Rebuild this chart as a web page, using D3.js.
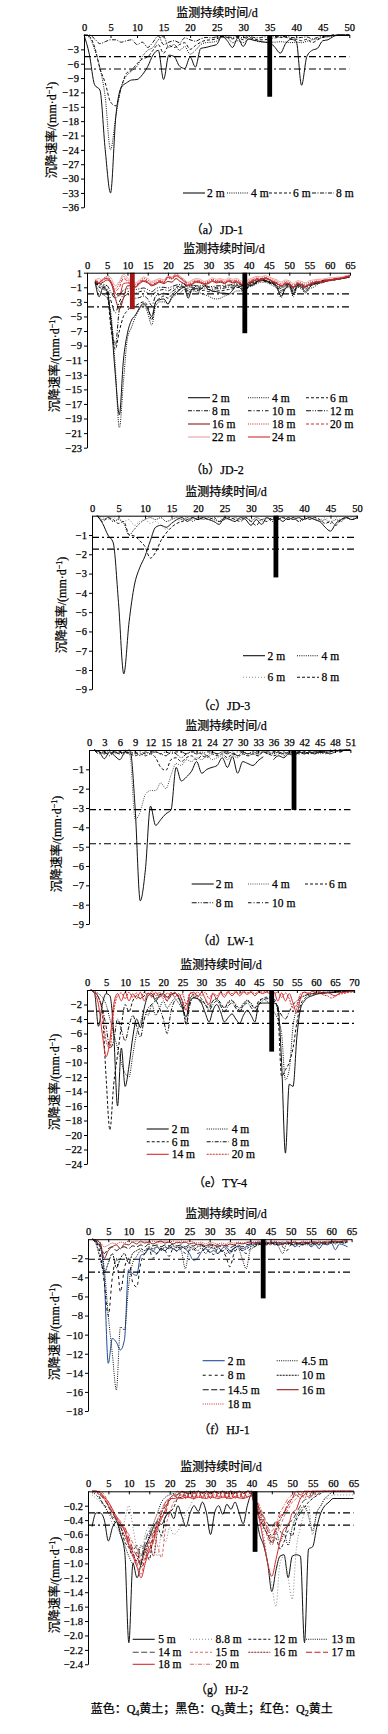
<!DOCTYPE html>
<html><head><meta charset="utf-8">
<script src="https://cdn.jsdelivr.net/npm/d3@7"></script>
<style>
body{margin:0;background:#fff;}
svg{display:block;background:#fff;}
text{font-family:"Liberation Serif","Times New Roman","Noto Sans CJK SC",serif;fill:#000;stroke:#000;stroke-width:0.25px;}
</style></head><body>
<svg id="c" width="388" height="1734"></svg>
<script>
// ---------------- texts ----------------
const xTitle = "监测持续时间/d";
const yTitle = "沉降速率/(mm·d";
const captions = ["（a）JD-1","（b）JD-2","（c）JD-3","（d）LW-1","（e）TY-4","（f）HJ-1","（g）HJ-2"];

// ---------------- JD-1 ----------------
const jd1Days = [0,1,2,3,4,5,6,7,8,9,10,11,12,13,14,15,16,17,18,19,20,21,22,23,24,25,26,27,28,29,30,31,32,33,34,35,36,37,38,39,40,41,42,43,44,45,46,47,48,49,50];
const jd1XTicks = [0,5,10,15,20,25,30,35,40,45,50];
const jd1YTicks = [-3,-6,-9,-12,-15,-18,-21,-24,-27,-30,-33,-36];
const jd1_2m = [0,-4,-10.4,-11.5,-24,-33,-17,-11,-10,-9.4,-9.3,
 -8.3,-6.6,-4.2,-3.2,-9.3,-4.2,-4.5,-6.5,-7,-4.6,
 -6.7,-2.8,-2.6,-2.3,-2,-0.2,-1.2,-2.6,-0.6,-2.4,
 -0.8,-1.1,-1.3,-1.5,-1.6,-2.6,-3.8,-1.8,-0.9,-1.3,
 -10.5,-4.5,-3.2,-2.8,-1.2,-1,-0.3,0,0,0];
const jd1_4m = [0,-0.5,-3,-6.8,-13,-24,-17,-11,-8.5,-7.5,-6.5,
 -4.5,-3.2,-2.6,-1,-0.3,-2.6,-2,-3.2,-2.4,-4,
 -3.2,-2,-1.6,-1.5,-1.3,-0.5,-0.6,-1.6,-1.2,-1.6,
 -0.9,-1.1,-1.4,-1.5,-1.5,-1.5,-1.4,-1.5,-1.6,-1.5,
 -1.6,-1.3,-1,-0.8,-0.5,-0.4,-0.2,0,0,0];
const jd1_6m = [0,-0.3,-2.5,-7,-10,-14,-14.8,-11,-8,-7.3,-6,
 -5,-4.6,-3.2,-2,-3.8,-2.2,-2.6,-2,-1.6,-3,
 -2.2,-1.5,-1.1,-1,-0.8,-0.4,-0.5,-0.8,-0.5,-1,
 -0.5,-0.8,-1,-1,-0.8,-0.6,-0.5,-0.5,-0.8,-0.9,
 -1.2,-0.9,-1.6,-1,-0.5,-0.2,0,0,0,0];
const jd1_8m = [0,0,-0.8,-1.8,-1.4,-1,-1,-1.5,-1.2,-1,-2,
 -1.5,-2.6,-1.5,-0.2,-2,-1.5,-1.2,-1.6,-0.6,-1,
 -1.3,-0.8,-0.5,-0.6,-0.4,-0.3,-0.4,-0.5,-0.3,-0.6,
 -0.3,-0.5,-0.6,-0.4,-0.5,-0.3,-0.4,-0.3,-0.5,-0.6,
 -0.5,-0.4,-0.8,-0.5,-0.2,-0.3,0,0,0,0];
const jd1Thresholds = [-4.5,-7.1];
const jd1Bar = [35,-12.9];

// ---------------- JD-2 ----------------
const jd2Days = [2,3,4,5,6,7,8,9,10,11,12,13,14,15,16,17,18,19,20,21,22,23,24,25,26,27,28,29,30,31,32,33,34,35,36,37,38,39,40,41,42,43,44,45,46,47,48,49,50,51,52,53,54,55,56,57,58,59,60,61,62,63,64,65];
const jd2XTicks = [0,5,10,15,20,25,30,35,40,45,50,55,60,65];
const jd2YTicks = [1,-1,-3,-5,-7,-9,-11,-13,-15,-17,-19,-21,-23];
const jd2_2m = [-0.2,-2.3,-1.0,-1.6,-6,-13,-18.5,-11,
 -7.3,-5.5,-4.8,-3.8,-3.2,-4,-5,-3,
 -2.7,-2.6,-3.3,-2.3,-1.8,-1.3,-0.9,-2.5,
 -1.2,-1.2,-1.3,-0.8,-1.3,-1.5,-1.6,-1.8,
 -1.8,-1.9,-1.4,-0.7,-1.2,-1.6,-0.8,-0.7,
 -0.3,0.2,0,-0.3,-0.5,-1.1,-2.2,-1.2,
 -0.8,-2.0,-0.8,-1.0,-1.6,-1.0,-0.6,-0.5,
 -0.3,-0.2,0,0.1,0.2,0.3,0.5,0.6];
const jd2_4m = [-0.5,-1.5,-2,-2.5,-5,-12,-20.3,-14,
 -8,-6.5,-5,-4,-3.4,-4.5,-6.2,-3.5,
 -3,-3,-3.2,-2.5,-2,-1.8,-1.3,-2.2,
 -1.5,-1.6,-1.8,-2,-2.2,-2.5,-2.6,-2.5,
 -2.2,-2,-1.8,-1.5,-1.5,-1.5,-1,-0.8,
 -0.5,-0.3,-0.3,-0.5,-0.8,-1.2,-2.4,-1.2,
 -1,-2.3,-1,-1.2,-1.8,-1.2,-1,-0.6,
 -0.3,-0.2,0,0,0.2,0.2,0.4,0.5];
const jd2_6m = [-0.4,-1,-1.2,-2,-7,-9.5,-7,-5,
 -4.2,-3.6,-3.5,-3.2,-3,-3.6,-5.5,-3,
 -2.5,-2.2,-2.5,-2,-1.5,-1.3,-1,-1.8,
 -1.3,-1.4,-1.5,-1.4,-1.6,-1.6,-1.5,-1.5,
 -1.4,-1.3,-1.2,-1,-1.1,-1.3,-0.9,-0.6,
 -0.4,-0.1,-0.2,-0.4,-0.6,-0.9,-1.8,-1,
 -0.7,-1.7,-0.8,-0.9,-1.3,-0.8,-0.6,-0.4,
 -0.3,-0.1,0,0,0.1,0.2,0.4,0.5];
const jd2_8m = [-0.3,-0.8,-1,-1.5,-6,-9,-4,-2.5,
 -2,-2.2,-2.5,-2.4,-2.2,-2.6,-3.5,-2.2,
 -2,-1.8,-2,-1.6,-1.2,-1,-0.8,-1.5,
 -1,-1.1,-1.2,-1.1,-1.3,-1.3,-1.2,-1.2,
 -1.1,-1,-1,-0.8,-0.9,-1.1,-0.7,-0.5,
 -0.3,0,-0.1,-0.3,-0.5,-0.8,-1.5,-0.8,
 -0.6,-1.5,-0.7,-0.8,-1.1,-0.7,-0.5,-0.4,
 -0.2,-0.1,0,0.1,0.1,0.2,0.3,0.5];
const jd2_10m = [-0.3,-0.6,-0.8,-1.2,-3,-4.5,-3,-2,
 -1.6,-1.5,-1.8,-1.6,-1.5,-1.8,-2.2,-1.6,
 -1.4,-1.3,-1.5,-1.2,-1,-0.8,-0.6,-1.2,
 -0.8,-0.9,-1,-0.9,-1,-1.1,-1,-1,
 -0.9,-0.8,-0.8,-0.6,-0.7,-0.9,-0.6,-0.4,
 -0.2,0,-0.1,-0.2,-0.4,-0.6,-1.2,-0.7,
 -0.5,-1.2,-0.6,-0.7,-0.9,-0.6,-0.4,-0.3,
 -0.2,0,0,0.1,0.2,0.2,0.3,0.4];
const jd2_12m = [-0.2,-0.5,-0.6,-0.8,-1.8,-2.5,-2,-1.4,
 -1.2,-1.1,-1.3,-1.2,-1.1,-1.3,-1.6,-1.2,
 -1,-1,-1.1,-0.9,-0.7,-0.6,-0.5,-1,
 -0.7,-0.8,-0.8,-0.7,-0.9,-0.9,-0.8,-0.8,
 -0.7,-0.7,-0.6,-0.5,-0.6,-0.8,-0.5,-0.3,
 -0.2,0,-0.1,-0.2,-0.3,-0.5,-1,-0.6,
 -0.4,-1,-0.5,-0.6,-0.8,-0.5,-0.4,-0.3,
 -0.1,0,0,0.1,0.2,0.2,0.3,0.4];
const jd2_16m = [-0.2,-0.5,-0.3,0,-0.5,-2.5,-4.0,-2.5,
 -0.8,-0.8,-1,-0.5,-0.2,-0.4,-0.8,-0.6,
 -0.3,-0.5,-0.2,-0.3,0.2,-0.2,-0.5,-0.8,
 -0.6,-0.3,-0.4,-0.6,-0.5,-0.2,-0.4,-0.3,
 -0.5,-0.2,-0.4,-0.3,-0.6,-0.8,-0.4,-0.2,
 0,-0.1,0.2,0,-0.3,-0.5,-0.8,-0.5,
 -0.6,-1,-0.5,-0.7,-0.9,-0.6,-0.5,-0.3,
 -0.4,-0.2,-0.1,0,0.1,0.2,0.3,0.5];
const jd2_18m = [0,-0.3,0.2,0.5,-0.2,-1.2,-0.5,0.5,
 0,-0.5,-0.6,-0.2,0.2,0,-0.4,-0.2,
 0,-0.2,0.3,0.1,0.5,0.2,-0.1,-0.4,
 -0.2,0,-0.1,-0.3,-0.2,0.1,-0.1,0,
 -0.2,0.1,-0.1,0,-0.3,-0.5,-0.1,0.1,
 0.3,0.2,0.4,0.2,0,-0.2,-0.5,-0.2,
 -0.3,-0.7,-0.3,-0.4,-0.6,-0.3,-0.2,0,
 -0.1,0.1,0.1,0.2,0.3,0.3,0.5,0.6];
const jd2_20m = [-0.1,-0.2,0,0.3,-0.5,-1.5,-1,0.2,
 -0.2,-0.6,-0.8,-0.3,0,-0.2,-0.6,-0.4,
 -0.1,-0.4,0.5,0.3,0.8,0.4,0,-0.6,
 -0.4,-0.1,-0.2,-0.5,-0.3,0,-0.2,-0.1,
 -0.4,0,-0.2,-0.1,-0.4,-0.7,-0.3,0,
 0.2,0.1,0.3,0.1,-0.2,-0.4,-0.7,-0.4,
 -0.5,-0.9,-0.4,-0.6,-0.8,-0.5,-0.3,-0.2,
 -0.3,0,0,0.1,0.2,0.3,0.4,0.5];
const jd2_22m = [0,0.2,-0.2,0.6,0.2,-0.8,-0.2,0.8,
 0.3,-0.3,-0.4,0,0.4,0.2,-0.2,0,
 0.2,0,0.6,0.4,0.9,0.5,0.1,-0.3,
 0,0.2,0.1,-0.2,0,0.3,0.1,0.2,
 0,0.3,0.1,0.2,-0.1,-0.3,0.1,0.3,
 0.5,0.4,0.6,0.4,0.2,0,-0.3,0,
 -0.1,-0.5,-0.1,-0.2,-0.4,-0.1,0,0.1,
 0.1,0.2,0.3,0.3,0.4,0.4,0.6,0.7];
const jd2_24m = [-0.1,-0.4,0.1,0.2,-0.3,-1.8,-2.2,-0.5,
 -0.4,-0.7,-0.9,-0.4,-0.1,-0.3,-0.7,-0.5,
 -0.2,-0.3,0.4,0.2,0.6,0.3,-0.2,-0.7,
 -0.5,-0.2,-0.3,-0.5,-0.4,-0.1,-0.3,-0.2,
 -0.4,-0.1,-0.3,-0.2,-0.5,-0.7,-0.3,-0.1,
 0.1,0,0.3,0.1,-0.2,-0.4,-0.9,-0.4,
 -0.5,-1.1,-0.5,-0.7,-1,-0.6,-0.4,-0.2,
 -0.3,-0.1,0,0.1,0.2,0.3,0.4,0.6];
const jd2Thresholds = [-1.9,-3.7];
const jd2Bar = [39,-7.3];
const jd2RedBar = [11.2,-4.0];

// ---------------- JD-3 ----------------
const jd3Days = [1,2,3,4,5,6,7,8,9,10,11,12,13,14,15,16,17,18,19,20,21,22,23,24,25,26,27,28,29,30,31,32,33,34,35,36,37,38,39,40,41,42,43,44,45,46,47,48,49,50];
const jd3XTicks = [0,5,10,15,20,25,30,35,40,45,50];
const jd3YTicks = [-1,-2,-3,-4,-5,-6,-7,-8,-9];
const jd3_2m = [0,-0.4,-1.0,-1.4,-4.5,-8.2,-5.5,-3.6,-2.7,-2.1,
 -1.3,-0.6,-0.5,-0.6,-0.4,-0.2,-0.1,-0.3,-0.1,-0.2,
 -0.1,-0.2,-0.3,-0.45,-0.1,-0.2,-0.3,-0.1,-0.2,-0.5,
 -0.2,-0.45,-0.1,-0.2,-0.1,-0.3,-0.1,-0.2,-0.1,-0.2,
 -0.1,-0.2,-0.3,-0.6,-0.8,-0.4,-0.2,-0.1,-0.2,-0.1];
const jd3_4m = [0,-0.2,-0.1,-0.3,-0.2,-0.4,-1.0,-0.7,-0.4,-0.2,
 -0.1,-0.2,-0.1,-0.3,-0.2,-0.1,-0.2,-0.1,-0.3,-0.1,
 -0.2,-0.1,-0.2,-0.3,-0.1,-0.2,-0.1,-0.2,-0.1,-0.3,
 -0.1,-0.2,-0.1,-0.3,-0.2,-0.1,-0.2,-0.1,-0.3,-0.2,
 -0.1,-0.2,-0.3,-0.2,-0.4,-0.2,-0.3,-0.1,-0.2,-0.1];
const jd3_6m = [0,-0.1,-0.2,-0.1,-0.2,-0.3,-0.2,-0.5,-0.3,-0.2,
 -0.4,-0.3,-0.5,-0.7,-0.4,-0.2,-0.3,-0.1,-0.2,-0.1,
 -0.1,-0.2,-0.1,-0.1,-0.2,-0.1,-0.2,-0.1,-0.1,-0.2,
 -0.1,-0.3,-0.1,-0.2,-0.1,-0.1,-0.2,-0.1,-0.1,-0.2,
 -0.1,-0.1,-0.2,-0.1,-0.3,-0.1,-0.2,-0.1,-0.1,0];
const jd3_8m = [0,-0.3,-0.1,-0.2,-0.4,-0.3,-1.0,-1.05,-1.3,-1.6,
 -2.2,-1.9,-1.3,-0.9,-0.6,-0.4,-0.3,-0.2,-0.1,-0.2,
 -0.1,-0.2,-0.1,-0.3,-0.2,-0.1,-0.2,-0.3,-0.1,-0.3,
 -0.5,-0.2,-0.3,-0.1,-0.2,-0.1,-0.2,-0.1,-0.3,-0.1,
 -0.2,-0.1,-0.2,-0.4,-0.3,-0.5,-0.2,-0.1,-0.2,-0.1];
const jd3Thresholds = [-1.12,-1.73];
const jd3Bar = [34.7,-3.2];

// ---------------- LW-1 ----------------
const lw1Days = [1,2,3,4,5,6,7,8,9,10,11,12,13,14,15,16,17,18,19,20,21,22,23,24,25,26,27,28,29,30,31,32,33,34,35,36,37,38,39,40,41,42,43,44,45,46,47,48,49,50,51];
const lw1XTicks = [0,3,6,9,12,15,18,21,24,27,30,33,36,39,42,45,48,51];
const lw1YTicks = [-1,-2,-3,-4,-5,-6,-7,-8,-9];
const lw1_2m = [0,-0.1,-0.45,-0.1,-0.3,-0.5,-0.1,0,-3.0,-7.8,
 -6.2,-2.9,-3.9,-3.6,-3.3,-3.1,-0.9,-1.6,-1.4,-1.1,
 -0.6,-1.2,-1.0,-0.9,-0.8,-0.4,-0.9,-0.35,-1.2,-0.6,
 -0.7,-0.8,-0.55,-0.35,null,-0.5,-0.3,-0.4,-0.2,-0.3,
 -0.1,-0.2,-0.1,-0.2,-0.1,-0.1,-0.2,-0.1,0,0,
 0];
const lw1_4m = [0,-0.1,-0.2,-0.1,-0.2,-0.1,0,-0.3,-3.6,-3.2,
 -2.3,-2.1,-2.1,-1.7,-2.0,-1.3,-0.7,-0.8,-0.5,-0.6,
 -0.4,-0.5,-0.3,-0.5,-0.4,-0.3,-0.5,-0.3,-0.4,-0.2,
 -0.3,-0.2,-0.3,-0.1,-0.2,-0.2,-0.1,-0.2,-0.1,-0.2,
 -0.1,-0.2,-0.1,-0.1,-0.2,-0.1,-0.1,0,-0.1,0,
 0];
const lw1_6m = [0,-0.1,-0.2,0,-0.1,-0.2,-0.1,-0.2,-0.3,-0.2,
 -0.3,-0.2,-0.4,-0.9,-1.05,-0.5,-0.4,-0.6,-0.4,-0.3,
 -0.5,-0.3,-0.4,-0.2,-0.3,-0.2,-0.4,-0.2,-0.3,-0.2,
 -0.3,-0.2,-0.3,-0.1,-0.2,-0.3,-0.2,-0.1,-0.2,-0.1,
 -0.2,-0.1,-0.2,-0.1,-0.1,-0.2,-0.1,0,-0.1,0,
 0];
const lw1_8m = [0,-0.2,-0.1,-0.3,-0.1,-0.2,-0.1,-0.2,-0.1,-0.3,
 -0.1,-0.2,-0.1,-0.2,-0.3,-0.1,-0.2,-0.4,-0.2,-0.1,
 -0.2,-0.1,-0.3,-0.1,-0.2,-0.1,-0.2,-0.1,-0.3,-0.1,
 -0.2,-0.1,-0.2,-0.1,-0.1,-0.2,-0.1,-0.3,-0.1,-0.2,
 -0.1,-0.2,-0.1,-0.2,-0.1,-0.1,-0.1,0,-0.1,0,
 0];
const lw1_10m = [0,-0.1,-0.1,-0.2,-0.1,-0.1,-0.2,-0.1,-0.2,-0.1,
 -0.2,-0.1,-0.1,-0.2,-0.1,-0.2,-0.1,-0.1,-0.2,-0.1,
 -0.1,-0.2,-0.1,-0.1,-0.2,-0.1,-0.1,-0.2,-0.1,-0.1,
 -0.2,-0.1,-0.1,-0.1,-0.2,-0.1,-0.1,-0.2,-0.1,-0.1,
 -0.1,-0.1,-0.2,-0.1,-0.1,-0.1,0,-0.1,0,0,
 0];
const lw1Thresholds = [-3.08,-4.85];
const lw1Bar = [40,-3.1];

// ---------------- TY-4 ----------------
const ty4Days = [1,2,3,4,5,6,7,8,9,10,11,12,13,14,15,16,17,18,19,20,21,22,23,24,25,26,27,28,29,30,31,32,33,34,35,36,37,38,39,40,41,42,43,44,45,46,47,48,49,50,51,52,53,54,55,56,57,58,59,60,61,62,63,64,65,66,67,68,69,70];
const ty4XTicks = [0,5,10,15,20,25,30,35,40,45,50,55,60,65,70];
const ty4YTicks = [-2,-4,-6,-8,-10,-12,-14,-16,-18,-20,-22,-24];
const ty4_2m = [0,-0.5,-5.0,-2,-0.5,-0.8,-6,-16,-8,-13.3,
 -10.5,-6.5,-4,-5.2,-2.5,-0.8,-0.5,-1.5,-0.8,-0.5,
 -1,-0.6,-0.4,-1,-2.5,-3.7,-1.5,-1.1,-1.2,-1.8,
 -3.2,-4.4,-2.8,-2,-3,-4.4,-3.8,-3.3,-4,-4.6,
 -3.5,-2.8,-3.5,-4.4,-2,-1.8,-1.8,-1.8,-1.8,-2.2,
 -10,-22.5,-13,-13.3,-6.5,-2.5,-1.5,-1,-0.8,-0.6,
 -0.5,-0.5,-0.4,-0.4,-0.3,-0.3,-0.3,-0.2,-0.2,-0.2];
const ty4_4m = [0,-0.2,-0.5,-1,-2,-4,-6,-8,-10,-11.5,
 -12,-9,-6,-4.5,-3,-3.5,-2,-3.5,-2.5,-1.5,
 -2.5,-1.8,-1.2,-1.8,-2.5,-2,-1,-0.8,-1.2,-1.8,
 -1.5,-2.2,-1.5,-1.2,-2,-2.4,-1.6,-1.4,-2,-2.5,
 -1.8,-1.4,-1.8,-2.5,-1.8,-1.2,-1.5,-2,-3,-4,
 -6,-12.4,-11,-5,-2.5,-1.2,-0.8,-0.6,-0.5,-0.4,
 -0.4,-0.3,-0.3,-0.3,-0.2,-0.2,-0.2,-0.1,-0.1,-0.1];
const ty4_6m = [0,-0.3,-1,-3,-12,-19.3,-13,-9,-5,-2,
 -3,-1.5,-0.8,-1.2,-0.8,-0.5,-0.8,-1.2,-0.6,-0.8,
 -1.5,-0.8,-0.5,-0.8,-1.5,-4.6,-1.2,-0.6,-0.8,-1.2,
 -2,-2.5,-1.5,-1.2,-1.8,-2.5,-1.8,-1.5,-2.2,-2.8,
 -2,-1.5,-2,-2.5,-1.5,-1.2,-1,-1,-1.2,-3,
 -11.9,-11,-10,-8,-4.5,-2,-1.2,-0.8,-0.6,-0.5,
 -0.4,-0.4,-0.3,-0.3,-0.3,-0.2,-0.2,-0.2,-0.1,-0.1];
const ty4_8m = [0,-0.3,-1,-2.5,-5,-8,-7,-4,-5.5,-7,
 -5,-3.5,-5,-6.5,-4,-2.5,-2,-1.5,-2.5,-4,
 -6,-3,-1.5,-1.2,-2,-4.8,-2,-1,-1.2,-1.5,
 -2,-2.8,-2,-1.5,-2.2,-3,-2.2,-1.8,-2.5,-3,
 -2.2,-1.8,-2.4,-3,-2,-1.5,-1.2,-1.2,-1.5,-2.5,
 -3.5,-4,-3,-2,-1.5,-1,-0.8,-0.6,-0.5,-0.4,
 -0.4,-0.3,-0.3,-0.3,-0.2,-0.2,-0.2,-0.1,-0.1,-0.1];
const ty4_14m = [0,-0.5,-2,-6,-9.2,-7,-2,-0.5,-1.5,-0.3,
 -1.5,-0.5,-1.2,-0.3,-1.5,-0.4,-1,-0.3,-1,-0.5,
 -1.5,-0.3,-1,-0.5,-1.5,-2.8,-0.5,-0.3,-1,-0.3,
 -1.2,-2,-0.5,-1.2,-0.4,-1,-0.3,-0.8,-0.3,-0.8,
 -0.3,-0.6,-0.3,-0.8,-0.3,-0.5,-0.3,-0.5,-0.3,-1.5,
 -0.4,-1.5,-0.5,-1.8,-3.2,-1,-0.3,-0.5,-0.2,-0.3,
 -0.2,-0.5,-0.3,-0.6,-0.8,-0.5,-0.3,-0.3,-0.2,-0.2];
const ty4_20m = [0,-0.3,-1,-3,-7,-8,-3,-0.8,-0.4,-1.2,
 -0.3,-1,-0.4,-1.2,-0.3,-0.8,-0.2,-0.8,-0.3,-1.2,
 -0.4,-0.8,-0.3,-1,-0.5,-2,-0.4,-0.6,-0.3,-0.8,
 -0.3,-1.2,-0.4,-0.8,-0.3,-0.6,-0.2,-0.5,-0.2,-0.5,
 -0.2,-0.4,-0.2,-0.5,-0.2,-0.3,-0.2,-0.3,-0.5,-0.3,
 -1,-0.4,-1.2,-2.5,-2,-0.5,-0.3,-0.4,-0.5,-0.6,
 -0.4,-0.7,-0.8,-1.1,-0.9,-0.6,-0.5,-0.4,-0.3,-0.3];
const ty4Thresholds = [-2.9,-4.6];
const ty4Bar = [48.4,-8.5];

// ---------------- HJ-1 ----------------
const hj1Days = [1,2,3,4,5,6,7,8,9,10,11,12,13,14,15,16,17,18,19,20,21,22,23,24,25,26,27,28,29,30,31,32,33,34,35,36,37,38,39,40,41,42,43,44,45,46,47,48,49,50,51,52,53,54,55,56,57,58,59,60,61,62,63,64];
const hj1XTicks = [0,5,10,15,20,25,30,35,40,45,50,55,60,65];
const hj1YTicks = [-2,-4,-6,-8,-10,-12,-14,-16,-18];
const hj1_2m = [0,-0.3,-0.8,-4,-13,-10.4,-10.8,-11.6,-10.5,-3.2,
 -3.6,-3.8,-1.7,-1.5,-1,-1.2,-1.5,-1,-1.2,-0.8,
 -1,-1.2,-0.8,-1,-1.5,-2.2,-2,-1.3,-1,-1.4,
 -1.2,-1.5,-1,-0.8,-1.2,-1,-0.7,-1,-0.8,-0.6,
 -0.5,-0.5,-0.5,-0.5,-0.3,-0.6,-0.4,-0.3,-0.5,-0.4,
 -0.8,-0.5,-0.6,-0.3,-0.8,-0.5,-1.0,-0.5,-0.6,-0.4,
 -1.1,-0.5,-0.6,-0.8];
const hj1_4_5m = [0,-0.2,-0.8,-3,-8,-12,-15.8,-9.2,-9.5,-5,
 -2.5,-1.8,-1.2,-1.5,-1,-1.3,-0.8,-1,-1.2,-0.8,
 -1,-0.8,-1.2,-3.1,-1,-0.8,-1.2,-0.9,-1.5,-1,
 -0.8,-1.5,-1.2,-1.5,-1.3,-1.2,-1,-2,-3.1,-1.2,
 -0.8,-0.6,-0.5,-0.4,-0.6,-0.3,-0.8,-1.5,-0.5,-0.6,
 -0.4,-0.8,-0.5,-0.6,-0.4,-0.6,-0.3,-0.5,-0.4,-0.3,
 -0.5,-0.3,-0.4,-0.3];
const hj1_8m = [0,-0.3,-1.5,-4.5,-8,-4,-2,-5.5,-3,-2,
 -4.5,-5,-2.5,-1.5,-1,-2,-1.5,-1,-1.2,-1.8,
 -1,-1.3,-1,-1.5,-1.2,-1,-1.5,-1.2,-1,-1.3,
 -1.6,-1,-1.2,-1.8,-2.9,-1.5,-1,-1.2,-1.5,-1,
 -0.8,-0.6,-0.5,-0.6,-0.4,-0.5,-0.6,-0.8,-1.2,-0.6,
 -0.5,-0.4,-0.6,-0.4,-0.5,-0.4,-0.6,-0.4,-0.3,-0.4,
 -0.3,-0.4,-0.3,-0.3];
const hj1_10m = [0,-0.5,-2,-3.5,-2.5,-1.5,-3,-2,-1.5,-2.5,
 -1.5,-1.2,-1,-1.2,-0.8,-1,-0.8,-1.2,-0.8,-1,
 -0.7,-0.9,-0.8,-1,-0.8,-1.1,-0.8,-0.7,-0.9,-0.8,
 -1,-0.8,-1.3,-1,-1.5,-0.9,-0.8,-1.2,-1,-0.8,
 -0.6,-0.5,-0.4,-0.5,-0.4,-0.5,-0.6,-0.5,-0.4,-0.5,
 -0.6,-0.4,-0.5,-0.4,-0.6,-0.4,-0.5,-0.4,-0.5,-0.3,
 -0.4,-0.3,-0.4,-0.3];
const hj1_14_5m = [0,-0.2,-0.6,-1.5,-1,-0.8,-1.2,-0.9,-0.8,-1,
 -0.7,-0.8,-0.6,-0.8,-0.5,-0.7,-0.6,-0.8,-0.6,-0.7,
 -0.5,-0.7,-0.6,-0.8,-0.6,-0.7,-0.5,-0.6,-0.8,-0.6,
 -0.7,-0.6,-0.8,-0.6,-0.9,-0.7,-0.6,-0.8,-0.6,-0.5,
 -0.4,-0.4,-0.3,-0.4,-0.3,-0.4,-0.3,-0.5,-0.3,-0.4,
 -0.3,-0.4,-0.3,-0.4,-0.3,-0.3,-0.4,-0.3,-0.3,-0.3,
 -0.2,-0.3,-0.2,-0.2];
const hj1_16m = [0,-0.1,-0.4,-2.0,-1.2,-0.8,-0.6,-1,-0.5,-0.6,
 -0.3,-0.5,-0.2,-0.4,-0.3,-0.5,-0.3,-0.2,-0.4,-0.3,
 -0.5,-0.3,-0.4,-0.3,-0.5,-0.4,-0.6,-0.5,-0.7,-0.5,
 -0.6,-0.8,-0.6,-0.7,-0.5,-0.6,-0.4,-0.5,-0.4,-0.3,
 -0.4,-0.3,-0.4,-0.3,-0.5,-0.3,-0.4,-0.6,-0.3,-0.4,
 -0.3,-0.5,-0.3,-0.4,-0.3,-0.5,-0.3,-0.4,-0.3,-0.3,
 -0.2,-0.3,-0.2,-0.2];
const hj1_18m = [0,-0.1,-0.3,-0.8,-0.6,-0.4,-0.5,-0.3,-0.4,-0.2,
 -0.3,-0.2,-0.4,-0.2,-0.3,-0.2,-0.3,-0.4,-0.2,-0.3,
 -0.2,-0.4,-0.2,-0.3,-0.2,-0.3,-0.4,-0.3,-0.5,-0.3,
 -0.4,-0.5,-0.4,-0.5,-0.3,-0.4,-0.3,-0.4,-0.3,-0.2,
 -0.3,-0.2,-0.3,-0.2,-0.4,-0.2,-0.3,-0.4,-0.2,-0.3,
 -0.2,-0.4,-0.2,-0.3,-0.2,-0.3,-0.2,-0.3,-0.2,-0.2,
 -0.2,-0.2,-0.1,-0.1];
const hj1Thresholds = [-2.1,-3.45];
const hj1Bar = [43.2,-6.2];

// ---------------- HJ-2 ----------------
const hj2Days = [1,2,3,4,5,6,7,8,9,10,11,12,13,14,15,16,17,18,19,20,21,22,23,24,25,26,27,28,29,30,31,32,33,34,35,36,37,38,39,40,41,42,43,44,45,46,47,48,49,50,51,52,53,54,55,56,57,58,59,60,61,62,63,64,65];
const hj2XTicks = [0,5,10,15,20,25,30,35,40,45,50,55,60,65];
const hj2YTicks = [-0.2,-0.4,-0.6,-0.8,-1.0,-1.2,-1.4,-1.6,-1.8,-2.0,-2.2,-2.4];
const hj2_5m = [-0.49,-0.3,-0.3,-0.4,-0.69,-0.5,-0.42,-0.6,-0.85,-2.1,
 -1.0,-1.2,-1.0,-0.77,-0.65,-0.5,-0.42,-0.46,-0.35,-0.28,
 -0.38,-0.2,-0.35,-0.49,-0.3,-0.2,-0.28,-0.15,-0.3,-0.6,
 -0.3,-0.2,-0.32,-0.18,-0.25,-0.15,-0.3,-0.45,-0.2,-0.05,
 -0.3,-0.6,-0.75,-1.0,-1.39,-1.1,-0.9,-0.88,-1.2,-0.9,
 -0.88,-0.9,-2.1,-0.8,-0.77,-0.5,-0.3,-0.2,-0.15,-0.1,
 -0.1,-0.1,-0.1,-0.1,-0.1];
const hj2_8_8m = [-0.05,-0.1,-0.15,-0.2,-0.3,-0.45,-0.5,-0.6,-0.4,-0.2,
 -0.5,-0.8,-0.9,-0.6,-0.5,-0.7,-0.9,-0.6,-0.7,-0.5,
 -0.6,-0.55,-0.45,-0.3,-0.2,-0.1,-0.05,-0.1,-0.05,-0.08,
 -0.05,-0.1,-0.05,-0.08,-0.05,-0.1,-0.05,-0.08,-0.05,-0.05,
 -0.2,-0.4,-0.6,-1.0,-1.3,-1.6,-1.0,-0.9,-1.2,-1.5,
 -0.8,-0.5,-0.3,-0.2,-0.6,-0.3,-0.2,-0.1,-0.1,-0.05,
 -0.05,-0.05,-0.05,-0.05,-0.05];
const hj2_12m = [0,0,-0.1,-0.2,-0.22,-0.38,-0.45,-0.5,-0.7,-0.78,
 -0.9,-0.85,-1.02,-0.8,-0.95,-0.6,-0.5,-0.62,-0.35,-0.3,
 -0.22,-0.1,-0.08,-0.05,-0.02,0,0,-0.02,0,-0.03,
 0,-0.02,0,-0.03,0,-0.02,0,-0.03,0,-0.02,
 -0.2,-0.38,-0.5,-0.6,-0.72,-0.65,-0.8,-0.7,-0.55,-0.62,
 -0.4,-0.3,-0.22,-0.15,-0.1,-0.06,-0.03,0,0,0,
 0,0,0,0,0];
const hj2_13m = [-0.02,-0.05,-0.12,-0.2,-0.3,-0.35,-0.42,-0.6,-0.75,-0.9,
 -1.0,-0.95,-0.75,-0.85,-0.6,-0.45,-0.3,-0.15,-0.08,-0.05,
 -0.03,-0.05,0,-0.03,0,-0.02,0,-0.03,0,-0.02,
 0,-0.03,0,-0.02,0,-0.03,0,-0.02,0,0,
 -0.1,-0.3,-0.45,-0.5,-0.62,-0.55,-0.7,-0.6,-0.75,-0.5,
 -0.35,-0.25,-0.2,-0.35,-0.55,-0.3,-0.2,-0.1,-0.05,0,
 0,0,0,0,0];
const hj2_14m = [0,0,-0.05,-0.1,-0.2,-0.3,-0.4,-0.48,-0.55,-0.7,
 -0.82,-0.75,-0.9,-0.7,-0.55,-0.6,-0.4,-0.3,-0.2,-0.12,
 -0.08,-0.04,0,-0.02,0,-0.03,0,-0.02,0,-0.03,
 0,-0.02,0,-0.03,0,-0.02,0,-0.03,0,0,
 -0.15,-0.25,-0.35,-0.45,-0.5,-0.42,-0.55,-0.6,-0.45,-0.4,
 -0.3,-0.2,-0.12,-0.1,-0.05,0,0,0,0,0,
 0,0,0,0,0];
const hj2_15m = [0,0,0,-0.05,-0.15,-0.25,-0.35,-0.45,-0.55,-0.7,
 -0.85,-1.0,-1.15,-0.9,-0.85,-0.6,-0.75,-0.92,-0.5,-0.3,
 -0.15,-0.1,-0.05,-0.1,0,-0.1,0,-0.1,0,-0.1,
 0,-0.1,0,-0.1,0,-0.1,0,-0.1,0,-0.05,
 -0.15,-0.3,-0.45,-0.65,-0.75,-0.6,-0.5,-0.35,-0.25,-0.15,
 -0.1,0,-0.1,0,-0.1,0,0,0,0,0,
 0,0,0,0,0];
const hj2_16m = [0,0,-0.02,-0.1,-0.2,-0.3,-0.4,-0.5,-0.62,-0.75,
 -0.85,-1.0,-0.95,-0.85,-0.7,-0.9,-0.55,-0.3,-0.15,-0.1,
 -0.05,-0.1,0,-0.1,-0.02,-0.1,0,-0.08,-0.02,-0.1,
 0,-0.08,0,-0.1,0,-0.08,0,-0.1,0,-0.05,
 -0.2,-0.35,-0.5,-0.6,-0.7,-0.55,-0.4,-0.3,-0.2,-0.1,
 -0.05,-0.1,0,-0.08,0,-0.05,0,0,0,0,
 0,0,0,0,0];
const hj2_17m = [0,0,-0.05,-0.12,-0.2,-0.3,-0.35,-0.45,-0.5,-0.65,
 -0.8,-0.9,-1.05,-0.95,-0.75,-0.65,-0.45,-0.35,-0.3,-0.1,
 -0.05,0,-0.08,0,-0.1,0,-0.1,0,-0.1,0,
 -0.1,0,-0.1,0,-0.1,0,-0.1,0,-0.08,0,
 -0.1,-0.25,-0.4,-0.55,-0.65,-0.5,-0.35,-0.3,-0.15,-0.1,
 0,-0.05,0,0,0,0,0,0,0,0,
 0,0,0,0,0];
const hj2_18m = [0,0,-0.02,-0.08,-0.15,-0.25,-0.38,-0.45,-0.55,-0.75,
 -0.9,-1.05,-1.2,-1.0,-0.82,-0.7,-0.5,-0.38,-0.25,-0.1,
 -0.1,-0.09,-0.1,-0.08,-0.09,-0.1,-0.08,-0.09,-0.1,-0.08,
 -0.09,-0.1,-0.08,-0.09,-0.1,-0.08,-0.09,-0.1,-0.08,-0.06,
 -0.15,-0.4,-0.7,-1.0,-1.18,-0.95,-0.7,-0.52,-0.48,-0.3,
 -0.25,-0.1,-0.05,0,0,0,0,0,0,0,
 0,0,0,0,0];
const hj2_20m = [0,-0.02,-0.05,-0.1,-0.18,-0.28,-0.35,-0.42,-0.52,-0.6,
 -0.72,-0.8,-0.95,-0.85,-0.7,-0.55,-0.4,-0.25,-0.15,-0.1,
 -0.05,-0.08,0,-0.08,0,-0.08,0,-0.08,0,-0.08,
 0,-0.08,0,-0.08,0,-0.08,0,-0.08,0,0,
 -0.1,-0.2,-0.35,-0.5,-0.55,-0.45,-0.3,-0.2,-0.1,-0.05,
 0,0,0,0,0,0,0,0,0,0,
 0,0,0,0,0];
const hj2Thresholds = [-0.3,-0.47];
const hj2Bar = [40.9,-0.84];

// ---------------- styles ----------------
const dashes = {
  solid:null, dot:"1,1.2", dash:"3,2", dashdot:"4,1.5,1,1.5", dashdot2:"3.5,2,1,2",
  dashdotdot:"5,1.5,1,1.5,1,1.5", longdash:"6,2.5", finedash:"2,1", sparsedot:"1,2", dash3:"3,3"
};
const BLK="#111", BLUE="#1f4c9c", RED="#d42a2a", DRED="#8e1a1a", PINK="#e7a3a3", LRED="#e06a6a", GRAY="#8a8a8a";

const panels = [
 {days:jd1Days, xDomain:[0,50], yDomain:[-36,0], xRange:[84,349.3], yRange:[207.3,35],
  xTicks:jd1XTicks, yTicks:jd1YTicks, yFmt:d3.format("d"), thresholds:jd1Thresholds,
  bars:[{v:jd1Bar,c:"#000"}], title:[217,13], caption:[217,230], ylab:[52,130],
  legend:{cols:[183,227,269,312], rows:[193], len:22, off:24},
  series:[
   {n:"2 m", v:jd1_2m, c:BLK, d:"solid"},
   {n:"4 m", v:jd1_4m, c:BLK, d:"dot"},
   {n:"6 m", v:jd1_6m, c:BLK, d:"dash"},
   {n:"8 m", v:jd1_8m, c:BLK, d:"dashdot"}]},
 {days:jd2Days, xDomain:[0,65], yDomain:[-23,1], xRange:[87,350], yRange:[447.7,272.7],
  xTicks:jd2XTicks, yTicks:jd2YTicks, yFmt:d3.format("d"), thresholds:jd2Thresholds,
  bars:[{v:jd2Bar,c:"#000"},{v:jd2RedBar,c:"#a51616"}], title:[224,249], caption:[217,470], ylab:[55,364],
  legend:{cols:[188,248,306], rows:[397.7,410.7,424,437], len:22, off:24},
  series:[
   {n:"2 m", v:jd2_2m, c:BLK, d:"solid"},
   {n:"4 m", v:jd2_4m, c:BLK, d:"dot"},
   {n:"6 m", v:jd2_6m, c:BLK, d:"dash"},
   {n:"8 m", v:jd2_8m, c:BLK, d:"dashdot"},
   {n:"10 m", v:jd2_10m, c:BLK, d:"dashdot2"},
   {n:"12 m", v:jd2_12m, c:BLK, d:"dashdotdot"},
   {n:"16 m", v:jd2_16m, c:DRED, d:"solid"},
   {n:"18 m", v:jd2_18m, c:RED, d:"dot"},
   {n:"20 m", v:jd2_20m, c:RED, d:"dash"},
   {n:"22 m", v:jd2_22m, c:PINK, d:"solid"},
   {n:"24 m", v:jd2_24m, c:RED, d:"solid"}]},
 {days:jd3Days, xDomain:[0,50], yDomain:[-9,0], xRange:[92,357], yRange:[689.3,515.7],
  xTicks:jd3XTicks, yTicks:jd3YTicks, yFmt:d3.format("d"), thresholds:jd3Thresholds,
  bars:[{v:jd3Bar,c:"#000"}], title:[226,491.7], caption:[224,706], ylab:[61.7,605],
  legend:{cols:[243,297], rows:[655.7,677.3], len:22, off:24.5},
  series:[
   {n:"2 m", v:jd3_2m, c:BLK, d:"solid"},
   {n:"4 m", v:jd3_4m, c:BLK, d:"dot"},
   {n:"6 m", v:jd3_6m, c:GRAY, d:"sparsedot"},
   {n:"8 m", v:jd3_8m, c:BLK, d:"dash"}]},
 {days:lw1Days, xDomain:[0,51], yDomain:[-9,0], xRange:[89,350.4], yRange:[924,750],
  xTicks:lw1XTicks, yTicks:lw1YTicks, yFmt:d3.format("d"), thresholds:lw1Thresholds,
  bars:[{v:lw1Bar,c:"#000"}], title:[226,725.7], caption:[225.7,940.7], ylab:[56.7,844],
  legend:{cols:[191.7,248,305], rows:[884,902.7], len:22, off:24},
  series:[
   {n:"2 m", v:lw1_2m, c:BLK, d:"solid"},
   {n:"4 m", v:lw1_4m, c:"#555", d:"dot"},
   {n:"6 m", v:lw1_6m, c:BLK, d:"dash"},
   {n:"8 m", v:lw1_8m, c:BLK, d:"dashdotdot"},
   {n:"10 m", v:lw1_10m, c:BLK, d:"dashdot2"}]},
 {days:ty4Days, xDomain:[0,70], yDomain:[-24,0], xRange:[87,354.1], yRange:[1164,990],
  xTicks:ty4XTicks, yTicks:ty4YTicks, yFmt:d3.format("d"), thresholds:ty4Thresholds,
  bars:[{v:ty4Bar,c:"#000"}], title:[221,964.3], caption:[220,1182.3], ylab:[55,1082],
  legend:{cols:[146.7,206.7], rows:[1129,1141.7,1154.3], len:22, off:25},
  series:[
   {n:"2 m", v:ty4_2m, c:BLK, d:"solid"},
   {n:"4 m", v:ty4_4m, c:BLK, d:"dot"},
   {n:"6 m", v:ty4_6m, c:BLK, d:"dash"},
   {n:"8 m", v:ty4_8m, c:BLK, d:"dashdot"},
   {n:"14 m", v:ty4_14m, c:RED, d:"solid"},
   {n:"20 m", v:ty4_20m, c:RED, d:"finedash"}]},
 {days:hj1Days, xDomain:[0,65], yDomain:[-18,0], xRange:[88,351.6], yRange:[1411,1239.2],
  xTicks:hj1XTicks, yTicks:hj1YTicks, yFmt:d3.format("d"), thresholds:hj1Thresholds,
  bars:[{v:hj1Bar,c:"#000"}], title:[226,1213.3], caption:[224,1430], ylab:[55,1332],
  legend:{cols:[202.7,276.7], rows:[1360.7,1375.3,1389.7,1404], len:22, off:25},
  series:[
   {n:"2 m", v:hj1_2m, c:BLUE, d:"solid"},
   {n:"4.5 m", v:hj1_4_5m, c:BLK, d:"dot"},
   {n:"8 m", v:hj1_8m, c:BLK, d:"dash3"},
   {n:"10 m", v:hj1_10m, c:BLK, d:"finedash"},
   {n:"14.5 m", v:hj1_14_5m, c:BLK, d:"longdash"},
   {n:"16 m", v:hj1_16m, c:DRED, d:"solid"},
   {n:"18 m", v:hj1_18m, c:RED, d:"dot"}]},
 {days:hj2Days, xDomain:[0,65], yDomain:[-2.4,0], xRange:[88,353.5], yRange:[1664.3,1491.3],
  xTicks:hj2XTicks, yTicks:hj2YTicks, yFmt:d3.format(".1f"), thresholds:hj2Thresholds,
  bars:[{v:hj2Bar,c:"#000"}], title:[221,1466.7], caption:[221.7,1689.3], ylab:[55,1585],
  legend:{cols:[132.7,190,248.3,306], rows:[1639.3,1652.3,1664.3], len:22, off:25.5},
  series:[
   {n:"5 m", v:hj2_5m, c:BLK, d:"solid"},
   {n:"8.8 m", v:hj2_8_8m, c:GRAY, d:"sparsedot"},
   {n:"12 m", v:hj2_12m, c:BLK, d:"dash"},
   {n:"13 m", v:hj2_13m, c:BLK, d:"dot"},
   {n:"14 m", v:hj2_14m, c:"#444", d:"longdash"},
   {n:"15 m", v:hj2_15m, c:LRED, d:"dash"},
   {n:"16 m", v:hj2_16m, c:DRED, d:"finedash"},
   {n:"17 m", v:hj2_17m, c:"#c81e1e", d:"longdash"},
   {n:"18 m", v:hj2_18m, c:RED, d:"solid"},
   {n:"20 m", v:hj2_20m, c:LRED, d:"dashdot"}]}
];

const svg = d3.select("#c");

panels.forEach((p,pi)=>{
  const x = d3.scaleLinear().domain(p.xDomain).range(p.xRange);
  const y = d3.scaleLinear().domain(p.yDomain).range(p.yRange);
  const g = svg.append("g");
  const top = y(p.yDomain[1]);

  g.append("text").attr("x",p.title[0]).attr("y",p.title[1]).attr("dy","0.35em")
    .attr("text-anchor","middle").attr("font-size",12).text(xTitle);
  g.append("text").attr("x",p.caption[0]).attr("y",p.caption[1]).attr("dy","0.35em")
    .attr("text-anchor","middle").attr("font-size",12).text(captions[pi]);
  const yl = g.append("text").attr("transform",`translate(${p.ylab[0]},${p.ylab[1]}) rotate(-90)`)
    .attr("text-anchor","middle").attr("dy","0.35em").attr("font-size",12);
  yl.append("tspan").text(yTitle);
  yl.append("tspan").attr("font-size",8).attr("dy",-4).text("−1");
  yl.append("tspan").attr("dy",4).text(")");

  const line = d3.line().defined(d=>d[1]!==null && d[1]!==undefined)
    .x(d=>x(d[0])).y(d=>y(d[1])).curve(d3.curveMonotoneX);
  p.series.forEach(s=>{
    const pts = p.days.map((d,i)=>[d, s.v[i]]);
    g.append("path").datum(pts).attr("d",line).attr("fill","none")
      .attr("stroke",s.c).attr("stroke-width",1)
      .attr("stroke-dasharray",dashes[s.d]);
  });

  p.thresholds.forEach(t=>{
    g.append("line").attr("x1",x(p.xDomain[0])).attr("x2",x(p.xDomain[1]))
      .attr("y1",y(t)).attr("y2",y(t)).attr("stroke","#000").attr("stroke-width",1.2)
      .attr("stroke-dasharray","7,3,2,3");
  });

  p.bars.forEach(b=>{
    g.append("rect").attr("x",x(b.v[0])-2.4).attr("width",4.8)
      .attr("y",top).attr("height",y(b.v[1])-top).attr("fill",b.c);
  });

  const ax = g.append("g").attr("transform",`translate(0,${top})`)
    .call(d3.axisTop(x).tickValues(p.xTicks).tickSizeInner(-3).tickSizeOuter(0).tickPadding(4).tickFormat(d3.format("d")));
  const ay = g.append("g").attr("transform",`translate(${x(0)},0)`)
    .call(d3.axisLeft(y).tickValues(p.yTicks).tickSizeInner(3).tickSizeOuter(0).tickPadding(2).tickFormat(p.yFmt));
  [ax,ay].forEach(a=>{
    a.attr("font-family",null).attr("font-size",null);
    a.selectAll("text").attr("font-size",10.5);
    a.selectAll("path,line").attr("stroke","#000").attr("stroke-width",1);
  });

  const L = p.legend, nc = L.cols.length;
  p.series.forEach((s,i)=>{
    const cx = L.cols[i%nc], cy = L.rows[Math.floor(i/nc)];
    g.append("line").attr("x1",cx).attr("x2",cx+L.len).attr("y1",cy).attr("y2",cy)
      .attr("stroke",s.c).attr("stroke-width",1.1).attr("stroke-dasharray",dashes[s.d]);
    g.append("text").attr("x",cx+L.off).attr("y",cy).attr("dy","0.35em")
      .attr("font-size",11.5).text(s.n);
  });
});

// footer
const ft = svg.append("text").attr("x",211.7).attr("y",1708.3).attr("dy","0.35em")
  .attr("text-anchor","middle").attr("font-size",12);
[["蓝色：Q",false],["4",true],["黄土；黑色：Q",false],["3",true],["黄土；红色：Q",false],["2",true],["黄土",false]]
 .forEach(([t,sub])=>{
   const ts = ft.append("tspan").text(t);
   if(sub){ ts.attr("font-size",8).attr("dy",3); }
   else if(t!=="蓝色：Q"){ ts.attr("dy",-3); }
 });
</script>
</body></html>
